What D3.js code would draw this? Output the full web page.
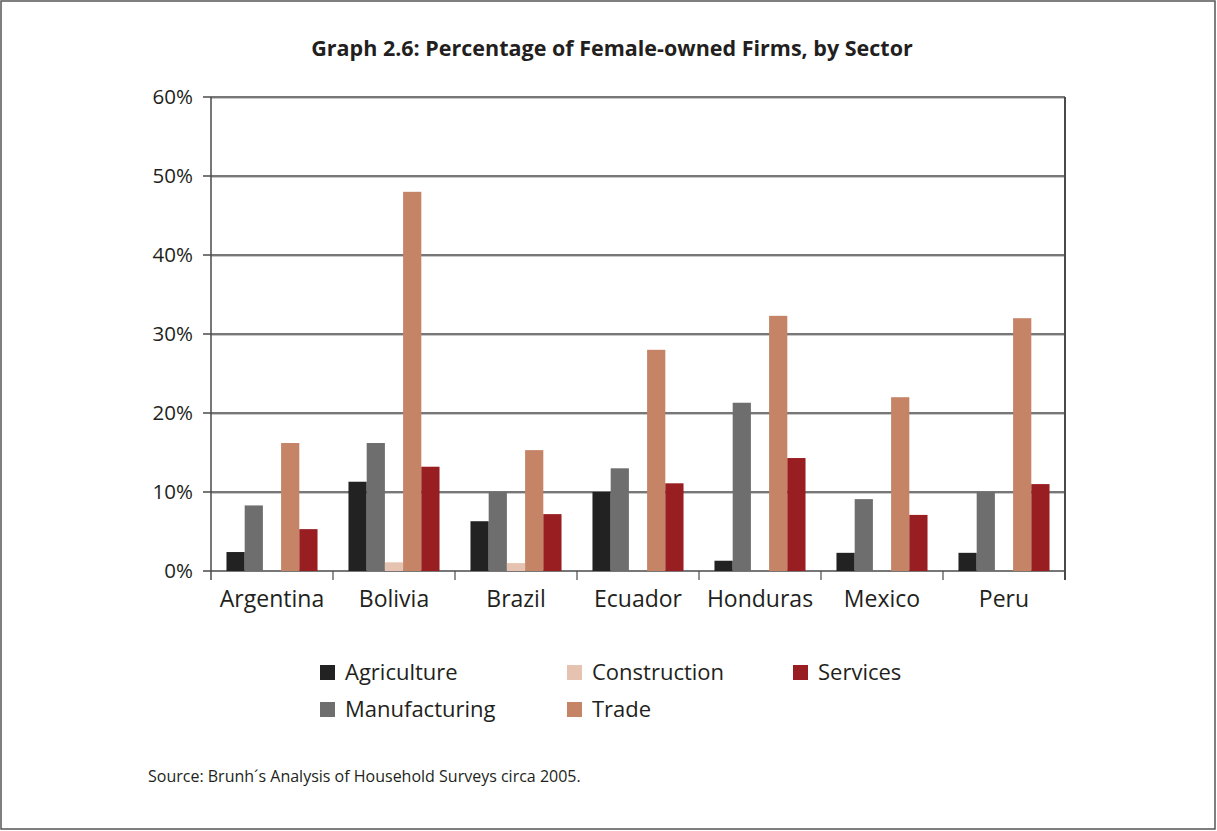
<!DOCTYPE html>
<meta charset="utf-8">
<style>
    body {
        margin: 0;
        font-family: "Open Sans", sans-serif;
    }
    .grid line {
        stroke: #4a4a4a;
        stroke-width: 1.5px;
    }
    .grid .shadow {
        stroke: #c8c8c8;
        stroke-width: 1px;
    }
</style>
<body>
<script src="https://cdn.jsdelivr.net/npm/d3@7"></script>
<script>

    var width = 1217,
        height = 831;

    var countries = ["Argentina", "Bolivia", "Brazil", "Ecuador", "Honduras", "Mexico", "Peru"];
    var sectors = ["Agriculture", "Manufacturing", "Construction", "Trade", "Services"];
    var colors = ["#222222", "#6e6e6f", "#e6c3b0", "#c58466", "#981e22"];

    // percent, one list per sector, in country order
    var agriculture   = [2.4, 11.3, 6.3, 10.0, 1.3, 2.3, 2.3];
    var manufacturing = [8.3, 16.2, 10.0, 13.0, 21.3, 9.1, 10.0];
    var construction  = [0, 1.1, 1.0, 0, 0, 0, 0];
    var trade         = [16.2, 48.0, 15.3, 28.0, 32.3, 22.0, 32.0];
    var services      = [5.3, 13.2, 7.2, 11.1, 14.3, 7.1, 11.0];

    var yTicks = [0, 10, 20, 30, 40, 50, 60];

    var series = [agriculture, manufacturing, construction, trade, services];

    var margin = { left: 211, right: 152, top: 97, bottom: 260 };

    var x0 = d3.scaleBand()
        .domain(countries)
        .range([margin.left, width - margin.right])
        .paddingInner(0)
        .paddingOuter(0);

    var x1 = d3.scaleBand()
        .domain(d3.range(sectors.length))
        .range([0, x0.bandwidth()])
        .paddingOuter(0.85)
        .paddingInner(0);

    var y = d3.scaleLinear()
        .domain([0, 60])
        .range([height - margin.bottom, margin.top]);

    var svg = d3.select("body").append("svg")
        .attr("width", width)
        .attr("height", height);

    // outer frame
    svg.append("rect")
        .attr("x", 1).attr("y", 1)
        .attr("width", width - 3).attr("height", height - 3)
        .attr("fill", "#fff")
        .attr("stroke", "#555")
        .attr("stroke-width", 1.5);

    svg.append("text")
        .attr("x", 612)
        .attr("y", 56)
        .attr("text-anchor", "middle")
        .style("font-weight", "bold")
        .style("font-size", "21.5px")
        .attr("fill", "#231f20")
        .text("Graph 2.6: Percentage of Female-owned Firms, by Sector");

    var x0l = margin.left, x0r = width - margin.right;

    // gridlines
    var grid = svg.append("g").attr("class", "grid");
    grid.selectAll("line.shadow")
        .data(yTicks.slice(1))
        .join("line")
        .attr("class", "shadow")
        .attr("x1", x0l).attr("x2", x0r)
        .attr("y1", function (d) { return y(d) + 1.5; })
        .attr("y2", function (d) { return y(d) + 1.5; });
    grid.selectAll("line.main")
        .data(yTicks)
        .join("line")
        .attr("class", "main")
        .attr("x1", x0l - 8).attr("x2", x0r)
        .attr("y1", function (d) { return y(d); })
        .attr("y2", function (d) { return y(d); });

    // bars
    var groups = svg.selectAll("g.country")
        .data(countries)
        .join("g")
        .attr("class", "country")
        .attr("transform", function (d) { return "translate(" + x0(d) + ",0)"; });

    groups.selectAll("rect")
        .data(function (c, ci) {
            return series.map(function (s, si) { return { si: si, v: s[ci] }; });
        })
        .join("rect")
        .attr("x", function (d) { return x1(d.si); })
        .attr("width", x1.bandwidth())
        .attr("y", function (d) { return y(d.v); })
        .attr("height", function (d) { return y(0) - y(d.v); })
        .attr("fill", function (d) { return colors[d.si]; });

    // axis lines
    svg.append("line")
        .attr("x1", x0l).attr("x2", x0l)
        .attr("y1", y(60)).attr("y2", y(0) + 9)
        .attr("stroke", "#4a4a4a").attr("stroke-width", 1.5);
    svg.append("line")
        .attr("x1", x0r).attr("x2", x0r)
        .attr("y1", y(60)).attr("y2", y(0) + 9)
        .attr("stroke", "#4a4a4a").attr("stroke-width", 2);

    // category tick marks below the axis
    svg.selectAll("line.xtick")
        .data(countries.slice(1))
        .join("line")
        .attr("class", "xtick")
        .attr("x1", function (d) { return x0(d); })
        .attr("x2", function (d) { return x0(d); })
        .attr("y1", y(0)).attr("y2", y(0) + 9)
        .attr("stroke", "#4a4a4a").attr("stroke-width", 1.2);

    svg.selectAll("text.ylab")
        .data(yTicks)
        .join("text")
        .attr("class", "ylab")
        .attr("x", 193)
        .attr("y", function (d) { return y(d) + 7; })
        .attr("text-anchor", "end")
        .style("font-size", "20.5px")
        .attr("fill", "#231f20")
        .text(function (d) { return d + "%"; });

    svg.selectAll("text.xlab")
        .data(countries)
        .join("text")
        .attr("class", "xlab")
        .attr("x", function (d) { return x0(d) + x0.bandwidth() / 2; })
        .attr("y", 607)
        .attr("text-anchor", "middle")
        .style("font-size", "23px")
        .attr("fill", "#231f20")
        .text(function (d) { return d; });

    // legend
    var legendPos = [[320, 672], [320, 709], [567, 672], [567, 709], [793, 672]];
    var legend = svg.selectAll("g.legend")
        .data(sectors)
        .join("g")
        .attr("class", "legend")
        .attr("transform", function (d, i) { return "translate(" + legendPos[i][0] + "," + legendPos[i][1] + ")"; });
    legend.append("rect")
        .attr("x", 0).attr("y", -7)
        .attr("width", 15).attr("height", 15)
        .attr("fill", function (d, i) { return colors[i]; });
    legend.append("text")
        .attr("x", 25).attr("y", 8)
        .style("font-size", "22px")
        .attr("fill", "#231f20")
        .text(function (d) { return d; });

    svg.append("text")
        .attr("x", 148)
        .attr("y", 782)
        .style("font-size", "16px")
        .attr("fill", "#231f20")
        .text("Source: Brunh\u00b4s Analysis of Household Surveys circa 2005.");

</script>
</body>
